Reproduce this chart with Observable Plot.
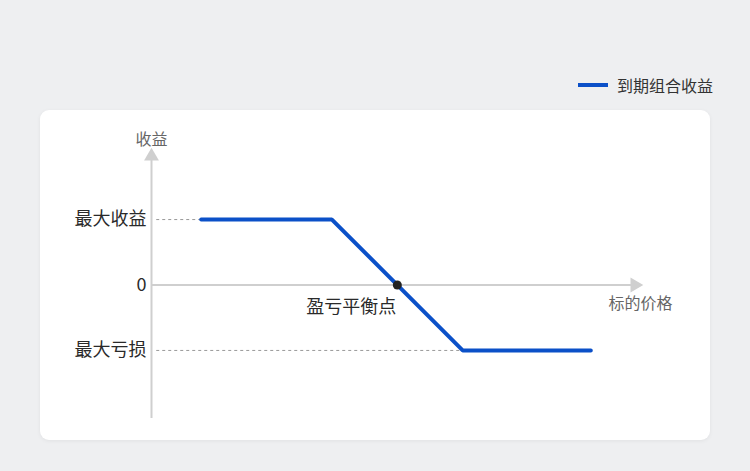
<!DOCTYPE html>
<html><head><meta charset="utf-8">
<script src="https://cdn.jsdelivr.net/npm/d3@7"></script>
<script src="https://cdn.jsdelivr.net/npm/@observablehq/plot@0.6"></script>
<style>
html,body{margin:0;padding:0;}
body{width:750px;height:471px;background:#eeeff1;position:relative;overflow:hidden;font-family:"Noto Sans CJK SC","Noto Sans",sans-serif;}
#legend{position:absolute;left:578px;top:74px;height:22px;display:flex;align-items:center;font-size:16px;color:#333;}
#legend .sw{width:30px;height:4px;background:#0b50c8;margin-right:9px;}
#card{position:absolute;left:40px;top:110px;width:670px;height:330px;background:#fff;border-radius:9px;box-shadow:0 1px 4px rgba(0,0,0,0.06);}
#card svg{position:absolute;left:0;top:0;}
</style></head>
<body>
<div id="legend"><div class="sw"></div><span>到期组合收益</span></div>
<div id="card"></div>
<script>
// data
const seriesName = "到期组合收益";
const priceAxis = [61, 248];        // x-axis extent (price)
const payoffAxis = [-51, 51];       // y-axis extent (payoff)
const prices = [80, 130, 180, 229];
const payoffs = [25, 25, -25, -25];
const breakeven = 155;
const maxProfit = 25, maxLoss = -25;
const yTickValues = [25, 0, -25];
const yTickLabels = ["最大收益", "0", "最大亏损"];
const yAxisLabel = "收益";
const xAxisLabel = "标的价格";
const breakevenLabel = "盈亏平衡点";

const line = prices.map((p, i) => ({x: p, y: payoffs[i]}));
const ticks = yTickValues.map((v, i) => ({v, label: yTickLabels[i]}));
const ox = priceAxis[0];

const plot = Plot.plot({
  width: 670, height: 330,
  margin: 0,
  style: {background: "transparent", fontFamily: '"Noto Sans CJK SC","Noto Sans",sans-serif'},
  x: {domain: priceAxis, range: [111, 600], axis: null},
  y: {domain: payoffAxis, range: [308, 41], axis: null},
  marks: [
    // guide dashed lines
    Plot.ruleY([maxProfit], {x1: ox + 2, x2: prices[0], stroke: "#999", strokeWidth: 1, strokeDasharray: "3,3"}),
    Plot.ruleY([maxLoss], {x1: ox + 2, x2: prices[2], stroke: "#999", strokeWidth: 1, strokeDasharray: "3,3"}),
    // axes
    Plot.ruleY([0], {x1: ox, x2: priceAxis[1] - 2.5, stroke: "#cfcfcf", strokeWidth: 2}),
    Plot.ruleX([ox], {y1: payoffAxis[0], y2: payoffAxis[1] - 2.5, stroke: "#cfcfcf", strokeWidth: 2}),
    Plot.dot([{x: priceAxis[1] - 2.2, y: 0}], {x: "x", y: "y", symbol: "triangle", r: 5.5, fill: "#cfcfcf", rotate: 90}),
    Plot.dot([{x: ox, y: payoffAxis[1] - 1.8}], {x: "x", y: "y", symbol: "triangle", r: 5.5, fill: "#cfcfcf"}),
    // payoff line
    Plot.line(line, {x: "x", y: "y", stroke: "#0b50c8", strokeWidth: 4, strokeLinejoin: "miter"}),
    Plot.dot([{x: breakeven, y: 0}], {x: "x", y: "y", r: 4.5, fill: "#222"}),
    // labels
    Plot.text(ticks, {x: ox, y: "v", text: "label", textAnchor: "end", dx: -5, fontSize: 18, fill: "#2a2a2a"}),
    Plot.text([yAxisLabel], {x: ox, y: payoffAxis[1], dy: -12, fontSize: 16, fill: "#666"}),
    Plot.text([xAxisLabel], {x: priceAxis[1], y: 0, dy: 19, fontSize: 16, fill: "#666"}),
    Plot.text([breakevenLabel], {x: breakeven, y: 0, dx: -1, dy: 22, textAnchor: "end", fontSize: 18, fill: "#2a2a2a"})
  ]
});
document.getElementById("card").appendChild(plot);
</script>
</body></html>
